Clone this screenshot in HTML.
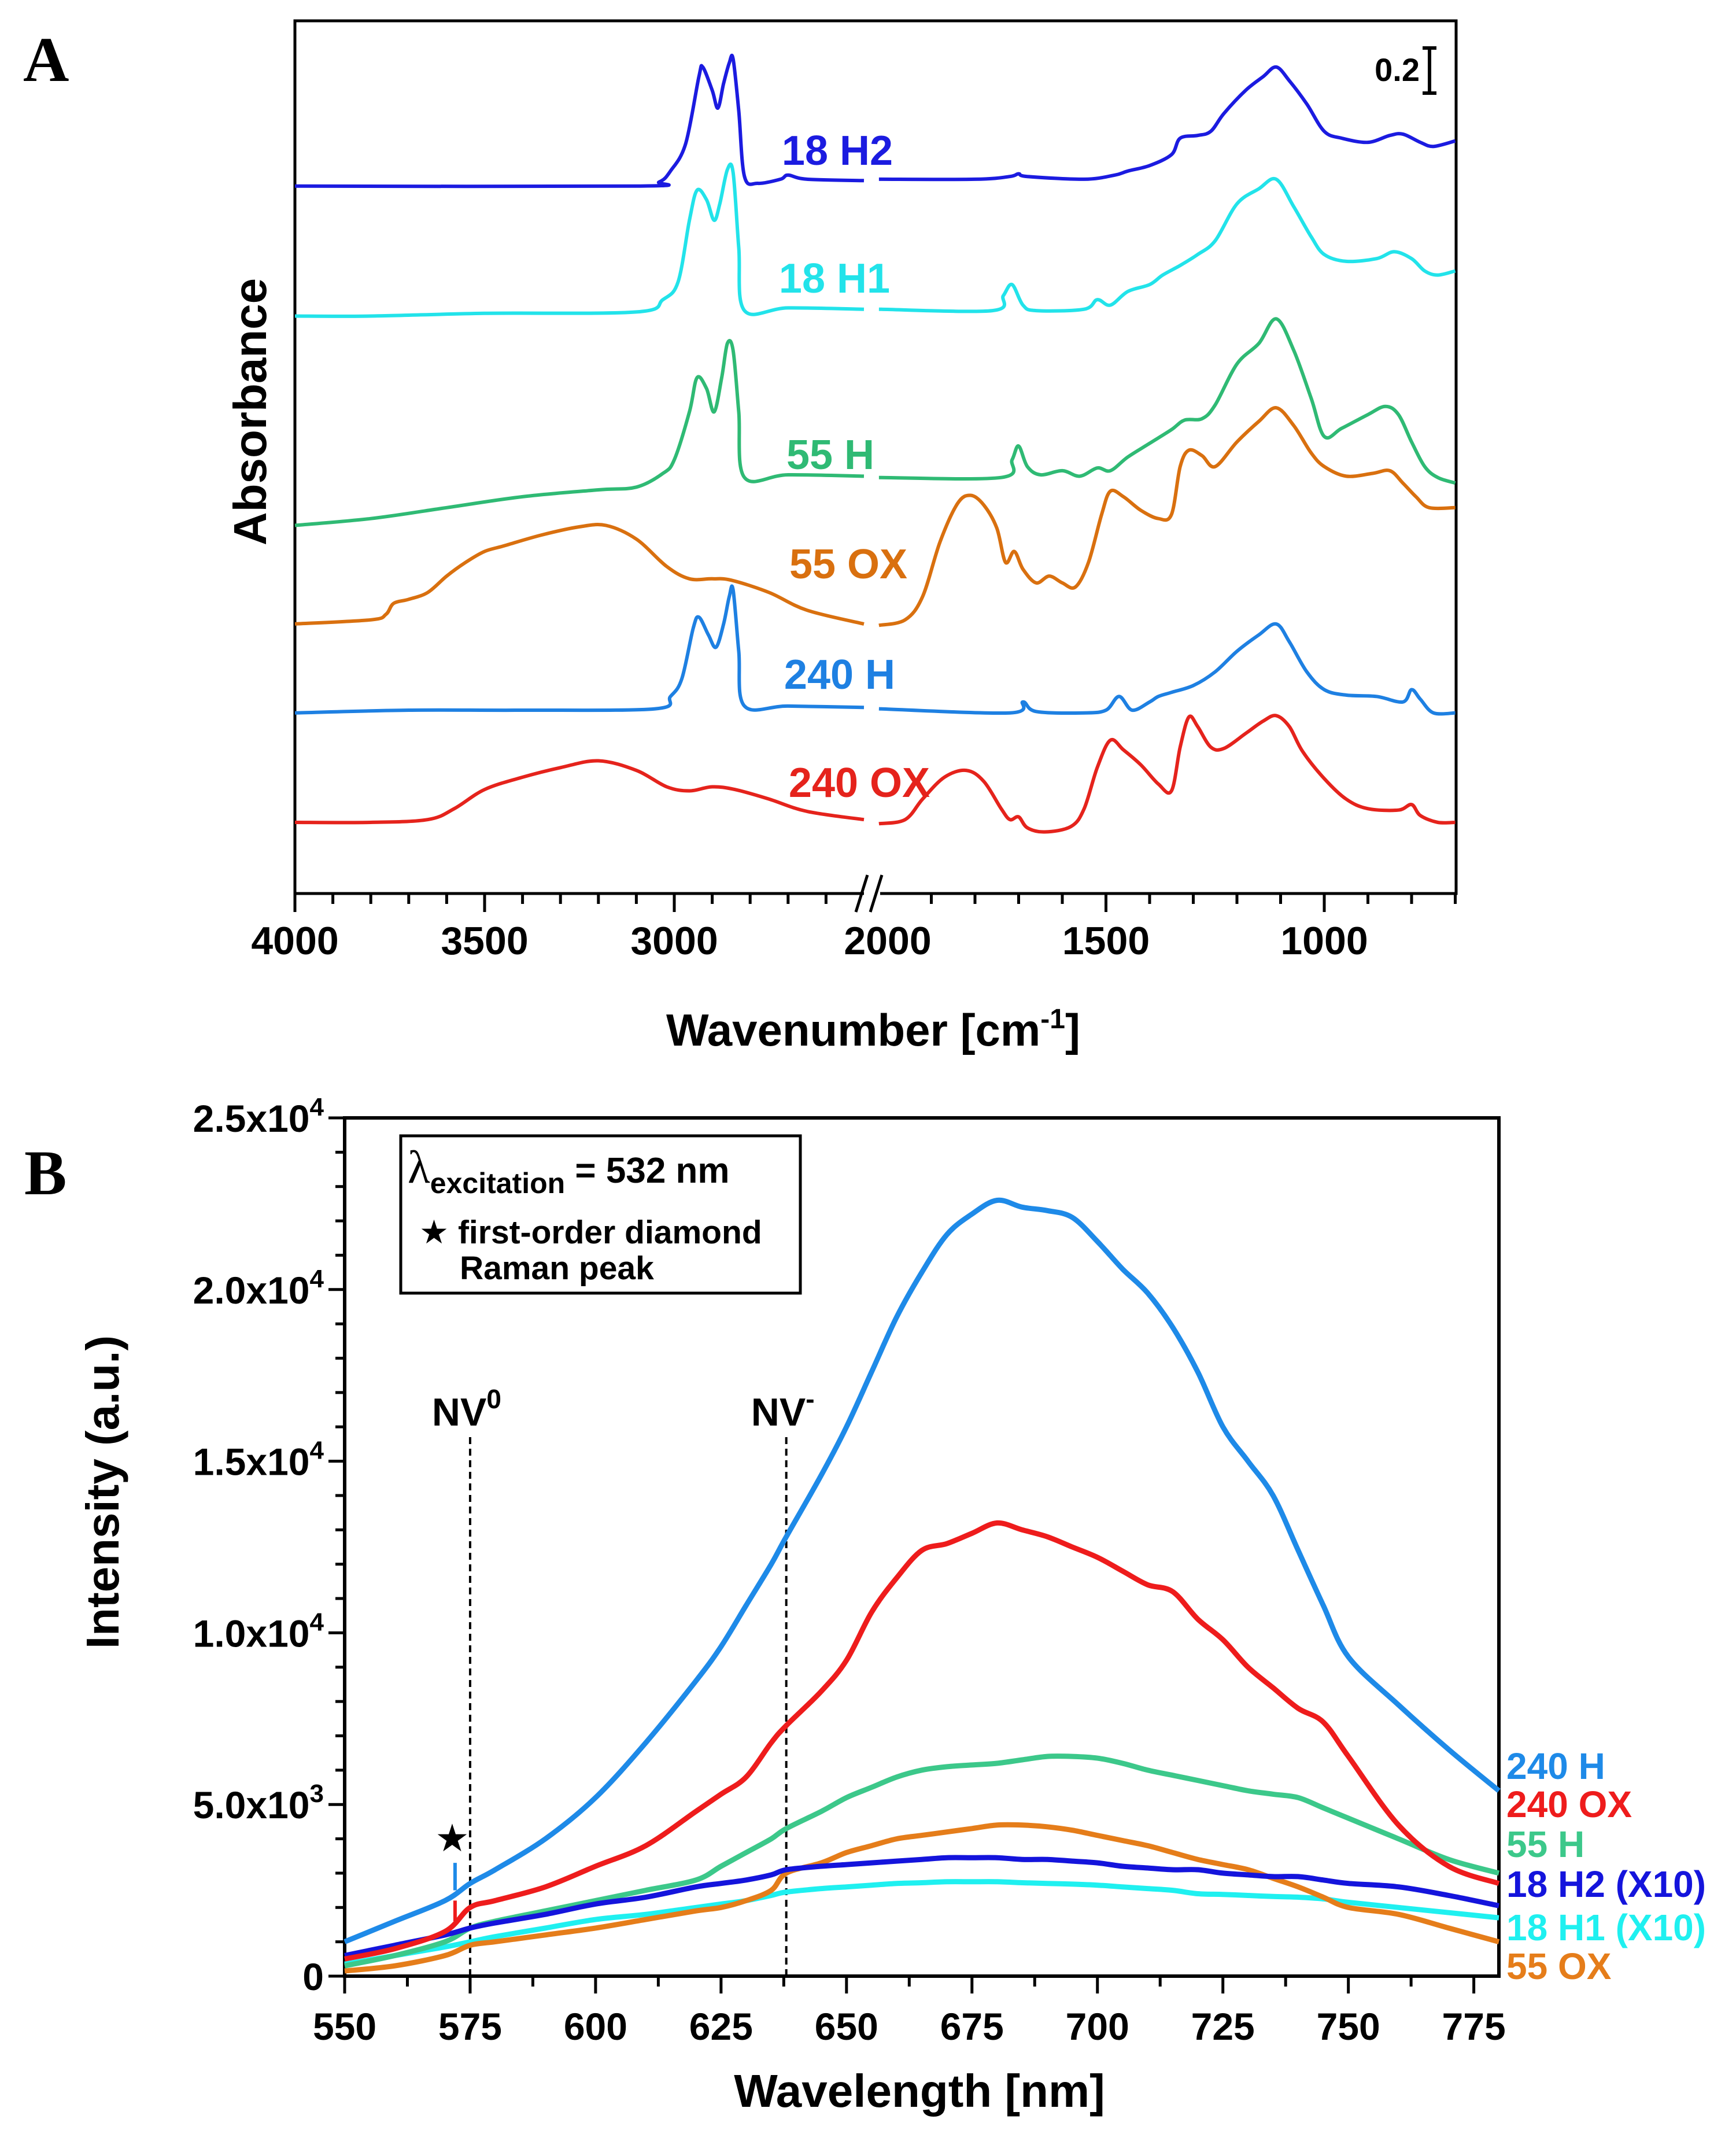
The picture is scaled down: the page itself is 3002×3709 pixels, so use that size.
<!DOCTYPE html>
<html><head><meta charset="utf-8">
<style>
html,body{margin:0;padding:0;background:#fff;}
svg{display:block;}
text{font-family:"Liberation Sans",Arial,sans-serif;font-weight:bold;}
</style></head>
<body>
<svg id="fig" xmlns="http://www.w3.org/2000/svg" width="3002" height="3709" viewBox="0 0 3002 3709">
<rect width="3002" height="3709" fill="#fff"/>
<g id="panelA"></g>
<g id="panelB"></g>
</svg>
<script>
// ---------- Panel A data (wavenumber, absorbance height in units where 0.2 abs = 33) ----------
const aNames = ["18 H2","18 H1","55 H","55 OX","240 H","240 OX"];
const aColors = ["#1b1be0","#22e3ea","#2fba74","#d9700f","#1e80e2","#e5231c"];
const aH2 = [[4000,517],[3100,517],[3040,520],[3010,528],[2970,548],[2935,597],[2925,604],[2900,587],[2885,574],[2870,592],[2855,607],[2845,610],[2830,572],[2815,524],[2780,519],[2720,522],[2700,525],[2650,522],[2500,521],
 null,[2020,522],[1800,522],[1720,524],[1700,526],[1680,524],[1550,522],[1480,525],[1450,528],[1400,532],[1350,540],[1330,552],[1290,554],[1260,557],[1230,570],[1180,587],[1140,597],[1110,604],[1080,594],[1040,577],[1000,557],[960,552],[900,549],[850,554],[820,555],[780,549],[750,546],[700,550]];
const aH1 = [[4000,422],[3800,422],[3500,424],[3100,425],[3030,434],[2990,447],[2960,492],[2940,514],[2915,507],[2895,492],[2880,504],[2860,529],[2845,527],[2830,472],[2815,426],[2700,428],[2500,427],
 null,[2020,427],[1760,426],[1735,437],[1715,445],[1690,430],[1660,426],[1550,427],[1520,434],[1490,430],[1450,440],[1400,445],[1370,452],[1330,459],[1290,467],[1250,477],[1200,504],[1150,515],[1110,522],[1070,502],[1030,480],[1000,467],[950,462],[880,464],[840,469],[800,464],[770,455],[740,452],[700,455]];
const a55H = [[4000,269],[3800,274],[3600,282],[3400,290],[3200,295],[3100,297],[3030,307],[3000,317],[2960,352],[2940,377],[2915,369],[2895,352],[2875,377],[2860,402],[2845,397],[2830,352],[2815,304],[2700,306],[2500,305],
 null,[2020,304],[1740,304],[1715,317],[1700,327],[1680,312],[1650,306],[1600,309],[1560,305],[1520,311],[1490,309],[1450,319],[1400,329],[1350,339],[1320,346],[1280,347],[1250,357],[1200,387],[1150,402],[1110,420],[1070,397],[1030,362],[1000,334],[960,340],[900,350],[860,356],[830,350],[800,330],[770,312],[740,304],[700,300]];
const a55OX = [[4000,197],[3800,200],[3760,204],[3740,212],[3700,215],[3650,220],[3600,232],[3550,242],[3500,250],[3450,254],[3350,262],[3250,268],[3180,269],[3100,259],[3020,239],[2960,230],[2900,230],[2850,229],[2750,220],[2650,207],[2500,197],
 null,[2020,196],[1960,200],[1920,217],[1880,257],[1840,285],[1810,291],[1780,284],[1750,267],[1730,242],[1710,250],[1690,237],[1660,227],[1630,232],[1600,227],[1570,224],[1540,242],[1510,277],[1490,294],[1460,290],[1420,280],[1380,274],[1350,277],[1330,312],[1310,324],[1280,320],[1250,312],[1200,330],[1150,345],[1110,355],[1070,342],[1030,322],[1000,312],[950,305],[890,307],[850,309],[820,300],[790,290],[760,282],[700,282]];
const a240H = [[4000,132],[3700,134],[3400,134],[3050,135],[3010,144],[2980,157],[2950,194],[2935,202],[2910,189],[2890,180],[2870,197],[2855,217],[2845,222],[2830,177],[2815,137],[2700,137],[2500,136],
 null,[2020,135],[1720,132],[1690,140],[1660,133],[1550,132],[1500,134],[1470,144],[1440,134],[1400,140],[1380,144],[1350,147],[1300,152],[1250,162],[1200,177],[1150,189],[1110,197],[1080,184],[1040,162],[1000,149],[950,145],[880,144],[820,140],[800,149],[780,142],[750,132],[700,132]];
const a240OX = [[4000,52],[3800,52],[3650,54],[3580,62],[3500,76],[3400,85],[3300,92],[3200,97],[3100,90],[3020,78],[2960,75],[2900,78],[2840,76],[2750,69],[2650,60],[2500,54],
 null,[2020,51],[1960,54],[1920,69],[1870,85],[1820,90],[1780,82],[1740,62],[1720,54],[1700,56],[1680,48],[1640,45],[1580,49],[1550,62],[1520,92],[1490,112],[1460,105],[1420,94],[1380,80],[1350,75],[1330,107],[1310,129],[1290,122],[1260,107],[1230,106],[1180,117],[1140,126],[1110,130],[1080,122],[1050,104],[1000,84],[950,69],[900,62],[830,61],[800,65],[780,57],[740,52],[700,52]];
const aSeries = [aH2,aH1,a55H,a55OX,a240H,a240OX];
const aLabelPos = [[1448,260],[1443,481],[1436,786],[1467,975],[1452,1166],[1486,1353]];
const aTicksMajor = [4000,3500,3000,2000,1500,1000];

// ---------- Panel B data ----------
const bNames = ["240 H","240 OX","55 H","18 H2 (X10)","18 H1 (X10)","55 OX"];
const bColors = ["#1e8ae8","#ee1c1c","#3cc88a","#1414dc","#1ff0f0","#e57d1a"];
const bWave = [550,560,570,575,580,590,600,610,620,625,630,635,638,645,650,655,660,665,670,675,680,685,690,695,700,705,710,715,720,725,730,735,740,745,750,760,770,780];
const b240H = [1000,1600,2200,2700,3100,4000,5200,6800,8600,9600,10800,12000,12800,14600,16000,17600,19200,20500,21600,22200,22600,22400,22300,22100,21400,20600,19900,18900,17600,16000,15000,14000,12400,10800,9300,7900,6600,5400];
const b240OX = [500,800,1300,2000,2200,2600,3200,3800,4800,5300,5800,6800,7300,8300,9200,10600,11600,12400,12600,12900,13200,13000,12800,12500,12200,11800,11400,11200,10400,9800,9000,8400,7800,7400,6400,4400,3200,2700];
const b55H = [300,600,1000,1400,1600,1900,2200,2500,2800,3200,3600,4000,4300,4800,5200,5500,5800,6000,6100,6150,6200,6300,6400,6400,6350,6200,6000,5850,5700,5550,5400,5300,5200,4900,4600,4000,3400,3000];
const b18H2 = [600,900,1200,1400,1550,1800,2100,2300,2600,2700,2800,2950,3100,3200,3250,3300,3350,3400,3450,3450,3450,3400,3400,3350,3300,3200,3150,3100,3100,3000,2950,2900,2900,2800,2700,2600,2350,2050];
const b18H1 = [350,600,850,1000,1150,1400,1650,1800,2000,2100,2200,2350,2450,2550,2600,2650,2700,2720,2750,2750,2750,2720,2700,2680,2650,2600,2550,2500,2400,2380,2350,2320,2300,2250,2150,2000,1850,1700];
const b55OX = [150,300,600,900,1000,1200,1400,1650,1900,2000,2200,2500,3000,3300,3600,3800,4000,4100,4200,4300,4400,4400,4350,4250,4100,3950,3800,3600,3400,3250,3100,2850,2600,2300,2000,1800,1400,1000];
const bSeries = [b240H,b240OX,b55H,b18H2,b18H1,b55OX];
const bYTicks = [0,5000,10000,15000,20000,25000];
const bYTickLabels = [["0",""],["5.0x10","3"],["1.0x10","4"],["1.5x10","4"],["2.0x10","4"],["2.5x10","4"]];
const bXTicks = [550,575,600,625,650,675,700,725,750,775];
const bSpikeWave = [572,572];
const bSpikeBase = [2500,1600];
const bSpikeTop = [3300,2200];
const bSpikeSeries = [0,1];
const bNV = [[575,"NV","0"],[638,"NV","-"]];

// ---------- helpers ----------
const NS="http://www.w3.org/2000/svg";
function mk(tag,attrs,parent){const e=document.createElementNS(NS,tag);for(const k in attrs)e.setAttribute(k,attrs[k]);parent.appendChild(e);return e;}
function smooth(pts){
  let d="M"+pts[0][0].toFixed(1)+","+pts[0][1].toFixed(1);
  for(let i=0;i<pts.length-1;i++){
    const p0=pts[i-1]||pts[i],p1=pts[i],p2=pts[i+1],p3=pts[i+2]||p2;
    const c1=[p1[0]+(p2[0]-p0[0])/6,p1[1]+(p2[1]-p0[1])/6];
    const c2=[p2[0]-(p3[0]-p1[0])/6,p2[1]-(p3[1]-p1[1])/6];
    d+="C"+c1[0].toFixed(1)+","+c1[1].toFixed(1)+" "+c2[0].toFixed(1)+","+c2[1].toFixed(1)+" "+p2[0].toFixed(1)+","+p2[1].toFixed(1);
  }
  return d;
}

// ---------- Panel A ----------
const A=document.getElementById("panelA");
const aL=510,aR=2518,aT=36,aB=1545;
function xA(v){return v>=2300? aL+(4000-v)*0.656 : 1535+(2000-v)*0.755;}
function yA(h){return aB-h*2.366;}
let fr=mk("path",{d:`M${aL},${aB} L${aL},${aT} L${aR},${aT} L${aR},${aB} L1522,${aB} M1494,${aB} L${aL},${aB}`,fill:"none",stroke:"#000","stroke-width":5},A);


for(let v=4000;v>=2600;v-=100){
  const maj=aTicksMajor.includes(v);
  const t=mk("line",{x1:xA(v),x2:xA(v),y1:aB,y2:aB+(maj?32:18),stroke:"#000","stroke-width":5},A);
  
  
}
for(let v=1900;v>=700;v-=100){
  const maj=aTicksMajor.includes(v);
  const t=mk("line",{x1:xA(v),x2:xA(v),y1:aB,y2:aB+(maj?32:18),stroke:"#000","stroke-width":5},A);
  
  
}
let brk=mk("path",{d:`M1480,${aB+32} L1500,${aB-32} M1505,${aB+32} L1525,${aB-32}`,stroke:"#000","stroke-width":5,fill:"none"},A);


aTicksMajor.forEach(v=>{
  const t=mk("text",{x:xA(v),y:1650,"font-size":68,"text-anchor":"middle"},A);
  t.textContent=v;
  
  
});
let xt=mk("text",{x:1510,y:1808,"font-size":78,"text-anchor":"middle"},A);
xt.innerHTML='Wavenumber [cm<tspan dy="-30" font-size="48">-1</tspan><tspan dy="30">]</tspan>';


let yt=mk("text",{x:0,y:0,"font-size":80,"text-anchor":"middle",transform:"translate(460,712) rotate(-90)"},A);
yt.textContent="Absorbance";


let pa=mk("text",{x:40,y:140,"font-size":110,style:"font-family:'Liberation Serif',serif;font-weight:bold"},A);
pa.textContent="A";


let sb=mk("path",{d:"M2472,83 L2472,161 M2460,83 L2484,83 M2460,161 L2484,161",stroke:"#000","stroke-width":6,fill:"none"},A);


let sbt=mk("text",{x:2455,y:140,"font-size":56,"text-anchor":"end"},A);
sbt.textContent="0.2";


aSeries.forEach((s,i)=>{
  const segs=[[]];
  s.forEach(p=>{ if(p===null) segs.push([]); else segs[segs.length-1].push([xA(p[0]),yA(p[1])]); });
  const g=mk("g",{},A);
  
  
  segs.forEach(sg=>{
    const p=mk("path",{d:smooth(sg),fill:"none",stroke:aColors[i],"stroke-width":6,"stroke-linejoin":"round"},g);
    
    
  });
  const t=mk("text",{x:aLabelPos[i][0],y:aLabelPos[i][1]+25,"font-size":72,"text-anchor":"middle",fill:aColors[i]},A);
  t.textContent=aNames[i];
  
  
});

// ---------- Panel B ----------
const B=document.getElementById("panelB");
const bL=596,bR=2592,bT=1933,bB=3417;
function xB(nm){return bL+(nm-550)*(bR-bL)/230;}
function yB(v){return bB-v*(bB-bT)/25000;}
let fb=mk("rect",{x:bL,y:bT,width:bR-bL,height:bB-bT,fill:"none",stroke:"#000","stroke-width":6},B);


for(let v=0;v<=25000;v+=1000){
  const maj=v%5000===0;
  const t=mk("line",{x1:bL,x2:bL-(maj?28:16),y1:yB(v),y2:yB(v),stroke:"#000","stroke-width":5},B);
  
  
}
for(let nm=550;nm<=780;nm+=12.5){
  const maj=(nm-550)%25===0;
  const t=mk("line",{x1:xB(nm),x2:xB(nm),y1:bB,y2:bB+(maj?30:18),stroke:"#000","stroke-width":5},B);
  
  
}
bYTicks.forEach((v,i)=>{
  const t=mk("text",{x:560,y:yB(v)+24,"font-size":66,"text-anchor":"end"},B);
  if(bYTickLabels[i][1]) t.innerHTML=bYTickLabels[i][0]+'<tspan dy="-28" font-size="44">'+bYTickLabels[i][1]+'</tspan>';
  else t.textContent=bYTickLabels[i][0];
  
  
});
bXTicks.forEach(nm=>{
  const t=mk("text",{x:xB(nm),y:3527,"font-size":66,"text-anchor":"middle"},B);
  t.textContent=nm;
  
  
});
let bxt=mk("text",{x:1590,y:3643,"font-size":80,"text-anchor":"middle"},B);
bxt.textContent="Wavelength [nm]";


let byt=mk("text",{x:0,y:0,"font-size":80,"text-anchor":"middle",transform:"translate(205,2580) rotate(-90)"},B);
byt.textContent="Intensity (a.u.)";


let pb=mk("text",{x:42,y:2065,"font-size":110,style:"font-family:'Liberation Serif',serif;font-weight:bold"},B);
pb.textContent="B";


bNV.forEach(n=>{
  const l=mk("line",{x1:xB(n[0]),x2:xB(n[0]),y1:2485,y2:bB,stroke:"#000","stroke-width":4,"stroke-dasharray":"12,8"},B);
  
  
  const t=mk("text",{x:xB(n[0])-6,y:2465,"font-size":68,"text-anchor":"middle"},B);
  t.innerHTML=n[1]+'<tspan dy="-30" font-size="46">'+n[2]+'</tspan>';
  
  
});
const order=[4,5,2,3,1,0];
order.forEach(i=>{
  const pts=bWave.map((w,k)=>[xB(w),yB(bSeries[i][k])]);
  const p=mk("path",{d:smooth(pts),fill:"none",stroke:bColors[i],"stroke-width":9,"stroke-linejoin":"round"},B);
  
  
});
bSpikeWave.forEach((w,k)=>{
  const s=mk("line",{x1:xB(w),x2:xB(w),y1:yB(bSpikeBase[k]),y2:yB(bSpikeTop[k]),stroke:bColors[bSpikeSeries[k]],"stroke-width":6},B);
  
  
});
let star=mk("text",{x:xB(bSpikeWave[0])-5,y:yB(bSpikeTop[0])-20,"font-size":66,"text-anchor":"middle",style:"font-family:'DejaVu Sans',sans-serif"},B);
star.textContent="★";


const bLabY=[3052,3118,3187,3256,3331,3398];
bNames.forEach((n,i)=>{
  const t=mk("text",{x:2605,y:bLabY[i]+24,"font-size":64,fill:bColors[i]},B);
  t.textContent=n;
  
  
});
const lg=mk("g",{},B);


mk("rect",{x:693,y:1964,width:691,height:272,fill:"#fff",stroke:"#000","stroke-width":5},lg);
const l1=mk("text",{x:705,y:2045,"font-size":62},lg);
l1.innerHTML='<tspan font-size="80" style="font-family:\'Liberation Serif\',serif;font-weight:normal">λ</tspan><tspan dy="18" font-size="50">excitation</tspan><tspan dy="-18"> = 532 nm</tspan>';


const l2=mk("text",{x:725,y:2150,"font-size":57},lg);
l2.innerHTML='<tspan style="font-family:\'DejaVu Sans\',sans-serif">★</tspan> first-order diamond';


const l3=mk("text",{x:795,y:2212,"font-size":57},lg);
l3.textContent="Raman peak";


</script>
</body></html>
